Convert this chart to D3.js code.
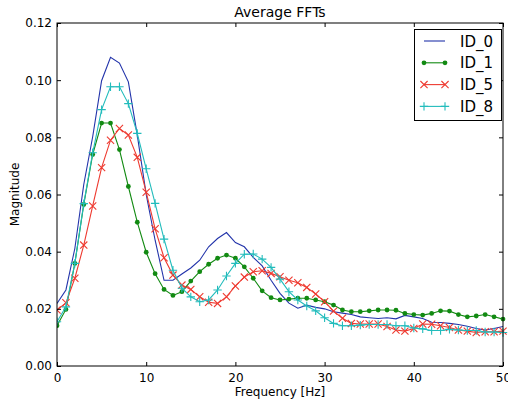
<!DOCTYPE html>
<html><head><meta charset="utf-8">
<script src="https://cdn.jsdelivr.net/npm/d3@7"></script>
<style>body{margin:0;background:#fff}svg{display:block}text{font-family:"DejaVu Sans",sans-serif;fill:#000}</style>
</head><body><svg id="c" width="508" height="401"></svg>
<script>
const freqs = d3.range(0, 51);
const id0 = [0.0219,0.0266,0.0411,0.0635,0.0802,0.0998,0.108,0.106,0.0994,0.0808,0.060,0.044,0.030,0.030,0.0322,0.0343,0.037,0.0417,0.0446,0.0467,0.0432,0.0417,0.038,0.035,0.030,0.0254,0.022,0.0202,0.0213,0.0205,0.020,0.019,0.0185,0.018,0.0172,0.0169,0.0166,0.0169,0.0165,0.0177,0.0172,0.0166,0.0153,0.0152,0.0149,0.0145,0.0139,0.0131,0.0126,0.0131,0.0138];
const id1 = [0.0141,0.0198,0.0359,0.0565,0.074,0.085,0.085,0.0757,0.0628,0.0503,0.0398,0.0323,0.0268,0.0247,0.026,0.0297,0.033,0.0356,0.0377,0.0388,0.0377,0.0347,0.0307,0.0263,0.0239,0.0231,0.0234,0.0237,0.0237,0.0231,0.0225,0.0213,0.0196,0.019,0.019,0.0193,0.0196,0.0196,0.0195,0.0184,0.018,0.0178,0.0184,0.0193,0.0192,0.018,0.0172,0.0175,0.018,0.0172,0.0164];
const id5 = [0.0196,0.0221,0.0307,0.0423,0.056,0.0694,0.079,0.0831,0.0808,0.073,0.0608,0.048,0.0379,0.0318,0.0283,0.0268,0.0242,0.0223,0.0219,0.0242,0.028,0.0311,0.033,0.0333,0.0324,0.0312,0.030,0.0291,0.0275,0.0252,0.0225,0.0192,0.0167,0.0149,0.0147,0.0147,0.0147,0.0138,0.0126,0.0122,0.0131,0.0147,0.0146,0.0141,0.0135,0.0126,0.0122,0.0117,0.012,0.012,0.0122];
const id8 = [0.0155,0.0207,0.0359,0.0568,0.0746,0.0897,0.0977,0.0977,0.0918,0.0814,0.069,0.0569,0.0444,0.0335,0.0272,0.0242,0.0225,0.0231,0.0266,0.0315,0.0359,0.0391,0.0392,0.0374,0.0345,0.0304,0.026,0.0231,0.021,0.0193,0.0169,0.0149,0.0141,0.0141,0.0143,0.0145,0.0145,0.0145,0.0141,0.0141,0.0133,0.013,0.0124,0.0124,0.0128,0.0126,0.0124,0.0124,0.0119,0.0119,0.0117];
const seriesNames = ["ID_0","ID_1","ID_5","ID_8"];
const xTicks = [0,10,20,30,40,50];
const yTicks = [0,0.02,0.04,0.06,0.08,0.10,0.12];

const series = [
  {name:seriesNames[0], values:id0, color:"#2233aa", marker:"none"},
  {name:seriesNames[1], values:id1, color:"#128a12", marker:"dot"},
  {name:seriesNames[2], values:id5, color:"#ee3a30", marker:"x"},
  {name:seriesNames[3], values:id8, color:"#22bcbc", marker:"plus"}
];

const L=57, R=503, T=23, B=366;
const svg = d3.select("#c");
const x = d3.scaleLinear().domain([0,50]).range([L,R]);
const y = d3.scaleLinear().domain([0,0.12]).range([B,T]);

const g = svg.append("g");
const clip = svg.append("clipPath").attr("id","pc").append("rect").attr("x",L).attr("y",T-6).attr("width",R-L+6).attr("height",B-T+12);

const line = d3.line().x((d,i)=>x(freqs[i])).y(d=>y(d));

function drawMarker(sel, type, color, cx, cy){
  if(type==="dot"){
    sel.append("circle").attr("cx",cx).attr("cy",cy).attr("r",2.4).attr("fill",color);
  } else if(type==="x"){
    const s=3.6;
    sel.append("path").attr("d",`M${cx-s},${cy-s}L${cx+s},${cy+s}M${cx-s},${cy+s}L${cx+s},${cy-s}`).attr("stroke",color).attr("stroke-width",1.1).attr("fill","none");
  } else if(type==="plus"){
    const s=4.2;
    sel.append("path").attr("d",`M${cx-s},${cy}L${cx+s},${cy}M${cx},${cy-s}L${cx},${cy+s}`).attr("stroke",color).attr("stroke-width",1.1).attr("fill","none");
  }
}

const plot = g.append("g").attr("clip-path","url(#pc)");
series.forEach(s=>{
  plot.append("path").datum(s.values).attr("d",line).attr("fill","none").attr("stroke",s.color).attr("stroke-width",1.1);
  const mg = plot.append("g");
  s.values.forEach((v,i)=>drawMarker(mg, s.marker, s.color, x(freqs[i]), y(v)));
});

// frame
g.append("rect").attr("x",L).attr("y",T).attr("width",R-L).attr("height",B-T).attr("fill","none").attr("stroke","#000").attr("stroke-width",1);

// axes (ticks inward)
const axB = d3.axisBottom(x).tickValues(xTicks).tickFormat(d3.format("d")).tickSizeInner(-4).tickSizeOuter(0).tickPadding(7);
const axT = d3.axisTop(x).tickValues(xTicks).tickFormat("").tickSizeInner(-4).tickSizeOuter(0);
const axL = d3.axisLeft(y).tickValues(yTicks).tickFormat(d3.format(".2f")).tickSizeInner(-4).tickSizeOuter(0).tickPadding(5);
const axR = d3.axisRight(y).tickValues(yTicks).tickFormat("").tickSizeInner(-4).tickSizeOuter(0);
function style(a){a.select(".domain").remove();a.selectAll("text").attr("font-size",12).attr("font-family","DejaVu Sans").attr("fill","#000");a.selectAll("line").attr("stroke","#000");}
g.append("g").attr("transform",`translate(0,${B})`).call(axB).call(style);
g.append("g").attr("transform",`translate(0,${T})`).call(axT).call(style);
g.append("g").attr("transform",`translate(${L},0)`).call(axL).call(style);
g.append("g").attr("transform",`translate(${R},0)`).call(axR).call(style);

// titles
svg.append("text").attr("x",(L+R)/2).attr("y",17).attr("text-anchor","middle").attr("font-size",14).text("Average FFTs");
svg.append("text").attr("x",(L+R)/2).attr("y",396).attr("text-anchor","middle").attr("font-size",12).text("Frequency [Hz]");
svg.append("text").attr("transform",`translate(19,${(T+B)/2}) rotate(-90)`).attr("text-anchor","middle").attr("font-size",12).text("Magnitude");

// legend
const lg = svg.append("g");
lg.append("rect").attr("x",414.5).attr("y",29.5).attr("width",87).attr("height",91).attr("fill","#fff").attr("stroke","#000").attr("stroke-width",1);
series.forEach((s,i)=>{
  const ly = 41 + i*21.8;
  lg.append("line").attr("x1",424).attr("x2",445).attr("y1",ly).attr("y2",ly).attr("stroke",s.color).attr("stroke-width",1.1);
  drawMarker(lg, s.marker, s.color, 424, ly);
  drawMarker(lg, s.marker, s.color, 445, ly);
  lg.append("text").attr("x",460).attr("y",ly+5.5).attr("font-size",15).text(s.name);
});
</script></body></html>
